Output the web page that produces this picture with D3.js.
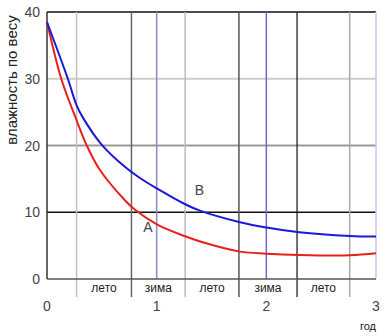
<!DOCTYPE html>
<html><head><meta charset="utf-8">
<script src="https://cdn.jsdelivr.net/npm/d3@7"></script>
<style>body{margin:0;background:#fff}svg{display:block;font-family:"Liberation Sans",Arial,sans-serif}</style>
</head><body><svg id="c" width="390" height="336"></svg>
<script>
const yearTicks = [0, 1, 2, 3];
const valueTicks = [0, 10, 20, 30, 40];
const seasonBounds = [0.27, 0.77, 1.26, 1.75, 2.28, 2.76];
const seasonLabels = ["лето", "зима", "лето", "зима", "лето"];
const seriesNames = ["A", "B"];
const redX = [0, 0.13, 0.26, 0.36, 0.48, 0.71, 0.8, 1.01, 1.26, 1.42, 1.76, 2.0, 2.3, 2.76, 3.0];
const redY = [38.5, 30, 24.2, 20.1, 16.4, 11.8, 10.4, 8.1, 6.4, 5.5, 4.1, 3.8, 3.6, 3.55, 3.85];
const blueX = [0, 0.19, 0.27, 0.33, 0.5, 0.71, 0.85, 1.01, 1.26, 1.4, 1.76, 2.0, 2.3, 2.76, 3.0];
const blueY = [38.5, 30, 26.0, 24.1, 20.1, 16.8, 15.1, 13.5, 11.2, 10.2, 8.5, 7.7, 7.0, 6.45, 6.35];
const labelPos = [[0.92, 7.8], [1.39, 13.3]];

const svg = d3.select("#c");
const x = d3.scaleLinear().domain([0, 3]).range([47, 376]);
const y = d3.scaleLinear().domain([0, 40]).range([279, 12]);

// horizontal grid
const hStyle = {40: ["#111", 1.5], 30: ["#c9cfc2", 2], 20: ["#9a9a9a", 2], 10: ["#111", 1.3]};
valueTicks.filter(v => v > 0).forEach(v => {
  svg.append("line").attr("x1", x(0)).attr("x2", x(3)).attr("y1", y(v)).attr("y2", y(v))
    .attr("stroke", hStyle[v][0]).attr("stroke-width", hStyle[v][1]);
});
// season boundary lines
const bColors = ["#c8bcc4", "#666", "#bbb", "#555", "#222", "#aaa"];
seasonBounds.forEach((b, i) => {
  svg.append("line").attr("x1", x(b)).attr("x2", x(b)).attr("y1", y(40)).attr("y2", 297)
    .attr("stroke", bColors[i]).attr("stroke-width", i === 4 ? 1.3 : 1.5);
});
// year lines
const yColors = [null, "#8a8ad0", "#6a6ad0", "#c8c8f0"];
yearTicks.filter(t => t > 0).forEach(t => {
  svg.append("line").attr("x1", x(t)).attr("x2", x(t)).attr("y1", y(40)).attr("y2", y(0))
    .attr("stroke", yColors[t]).attr("stroke-width", 1.5);
});
// axes
svg.append("line").attr("x1", x(0)).attr("x2", x(3)).attr("y1", y(0)).attr("y2", y(0)).attr("stroke", "#555").attr("stroke-width", 1.5);
svg.append("line").attr("x1", x(0)).attr("x2", x(0)).attr("y1", y(40)).attr("y2", y(0)).attr("stroke", "#333").attr("stroke-width", 1.5);

// y tick labels
svg.selectAll(".yt").data(valueTicks).join("text")
  .attr("x", 40).attr("y", d => y(d)).attr("dy", "0.36em").attr("text-anchor", "end")
  .attr("font-size", 14).attr("fill", "#444").text(d => d);
// x tick labels
svg.selectAll(".xt").data(yearTicks).join("text")
  .attr("x", d => x(d)).attr("y", 311).attr("text-anchor", "middle")
  .attr("font-size", 14).attr("fill", "#444").text(d => d);
// season labels
svg.selectAll(".sl").data(seasonLabels).join("text")
  .attr("x", (d, i) => x((seasonBounds[i] + seasonBounds[i + 1]) / 2)).attr("y", 292)
  .attr("text-anchor", "middle").attr("font-size", 12).attr("fill", "#222").text(d => d);
svg.append("text").attr("x", 368).attr("y", 330).attr("text-anchor", "middle")
  .attr("font-size", 11).attr("fill", "#222").text("год");
svg.append("text").attr("transform", "translate(17,80) rotate(-90)").attr("text-anchor", "middle")
  .attr("font-size", 15).attr("fill", "#222").text("влажность по весу");

// curves
const line = d3.line().x(d => x(d[0])).y(d => y(d[1])).curve(d3.curveCatmullRom.alpha(0.5));
svg.append("path").attr("d", line(redX.map((v, i) => [v, redY[i]])))
  .attr("fill", "none").attr("stroke", "#e8201c").attr("stroke-width", 2);
svg.append("path").attr("d", line(blueX.map((v, i) => [v, blueY[i]])))
  .attr("fill", "none").attr("stroke", "#1a1ad8").attr("stroke-width", 2);

svg.selectAll(".lab").data(seriesNames).join("text")
  .attr("x", (d, i) => x(labelPos[i][0])).attr("y", (d, i) => y(labelPos[i][1])).attr("dy", "0.36em")
  .attr("text-anchor", "middle").attr("font-size", 14).attr("fill", "#444").text(d => d);
</script></body></html>
